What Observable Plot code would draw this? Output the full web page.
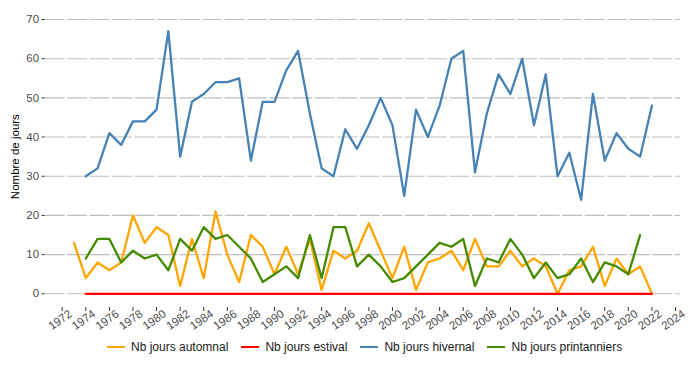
<!DOCTYPE html>
<html>
<head>
<meta charset="utf-8">
<script src="https://cdn.jsdelivr.net/npm/d3@7"></script>
<script src="https://cdn.jsdelivr.net/npm/@observablehq/plot@0.6"></script>
<style>
  body { margin: 0; background: #fff; font-family: "Liberation Sans", Arial, sans-serif; }
  #chart { width: 688px; height: 383px; position: relative; }
  #legend { display: flex; align-items: center; height: 22px; padding-left: 107px; font-size: 12px; color: #1a1a1a; }
  .item { display: flex; align-items: center; margin-right: 13px; }
  .key { width: 18px; height: 2.4px; margin-right: 6px; }
</style>
</head>
<body>
<div id="chart"></div>
<script>
const yearsAut = d3.range(1973, 2023);
const autumn = [13,4,8,6,8,20,13,17,15,2,14,4,21,10,3,15,12,5,12,5,14,1,11,9,11,18,11,4,12,1,8,9,11,6,14,7,7,11,7,9,7,0,6,7,12,2,9,5,7,0];
const yearsSum = d3.range(1974, 2023);
const summer = [0,0,0,0,0,0,0,0,0,0,0,0,0,0,0,0,0,0,0,0,0,0,0,0,0,0,0,0,0,0,0,0,0,0,0,0,0,0,0,0,0,0,0,0,0,0,0,0,0];
const yearsWin = d3.range(1974, 2023);
const winter = [30,32,41,38,44,44,47,67,35,49,51,54,54,55,34,49,49,57,62,46,32,30,42,37,43,50,43,25,47,40,48,60,62,31,46,56,51,60,43,56,30,36,24,51,34,41,37,35,48];
const yearsSpr = d3.range(1974, 2022);
const spring = [9,14,14,8,11,9,10,6,14,11,17,14,15,12,9,3,5,7,4,15,4,17,17,7,10,7,3,4,7,10,13,12,14,2,9,8,14,10,4,8,4,5,9,3,8,7,5,15];
const seriesNames = ["Nb jours automnal", "Nb jours estival", "Nb jours hivernal", "Nb jours printanniers"];
const seriesColors = ["#FFA500", "#FF0000", "#4682B4", "#458B00"];
const xTicks = d3.range(1972, 2025, 2);
const yTicks = [0, 10, 20, 30, 40, 50, 60, 70];

const toRows = (years, vals) => years.map((x, i) => ({x, y: vals[i]}));
const sets = [toRows(yearsAut, autumn), toRows(yearsSum, summer), toRows(yearsWin, winter), toRows(yearsSpr, spring)];

const plot = Plot.plot({
  width: 688,
  height: 336,
  marginLeft: 44.6,
  marginRight: 7.7,
  marginTop: 5.3,
  marginBottom: 29,
  style: {fontFamily: "Liberation Sans, Arial, sans-serif", fontSize: "11px", background: "#fff"},
  x: {domain: [1970.55, 2024.45]},
  y: {domain: [-3.5, 73.5]},
  marks: [
    Plot.gridY(yTicks, {stroke: "#bebebe", strokeOpacity: 1, strokeWidth: 1.1, strokeDasharray: "20,2.5"}),
    ...sets.map((rows, i) => Plot.line(rows, {x: "x", y: "y", stroke: seriesColors[i], strokeWidth: 2.3})),
    Plot.axisY(yTicks, {tickSize: 3, tickPadding: 3, stroke: "#333", fill: "#4d4d4d", fontSize: 11.5, label: null}),
    Plot.axisX(xTicks, {tickSize: 4, stroke: "#333", tickFormat: () => "", label: null}),
    Plot.text(xTicks, {x: d => d, text: d => String(d), frameAnchor: "bottom", dy: 15.5, rotate: -35, textAnchor: "middle", fill: "#4d4d4d", fontSize: 11.5}),
    Plot.text(["Nombre de jours"], {frameAnchor: "left", dx: -29.6, rotate: -90, textAnchor: "middle", fill: "#000", fontSize: 11.5})
  ]
});
const chart = document.getElementById("chart");
chart.appendChild(plot);
const legend = document.createElement("div");
legend.id = "legend";
seriesNames.forEach((n, i) => {
  const it = document.createElement("div");
  it.className = "item";
  const k = document.createElement("div");
  k.className = "key";
  k.style.background = seriesColors[i];
  const t = document.createElement("span");
  t.textContent = n;
  it.appendChild(k); it.appendChild(t);
  legend.appendChild(it);
});
chart.appendChild(legend);
</script>
</body>
</html>
